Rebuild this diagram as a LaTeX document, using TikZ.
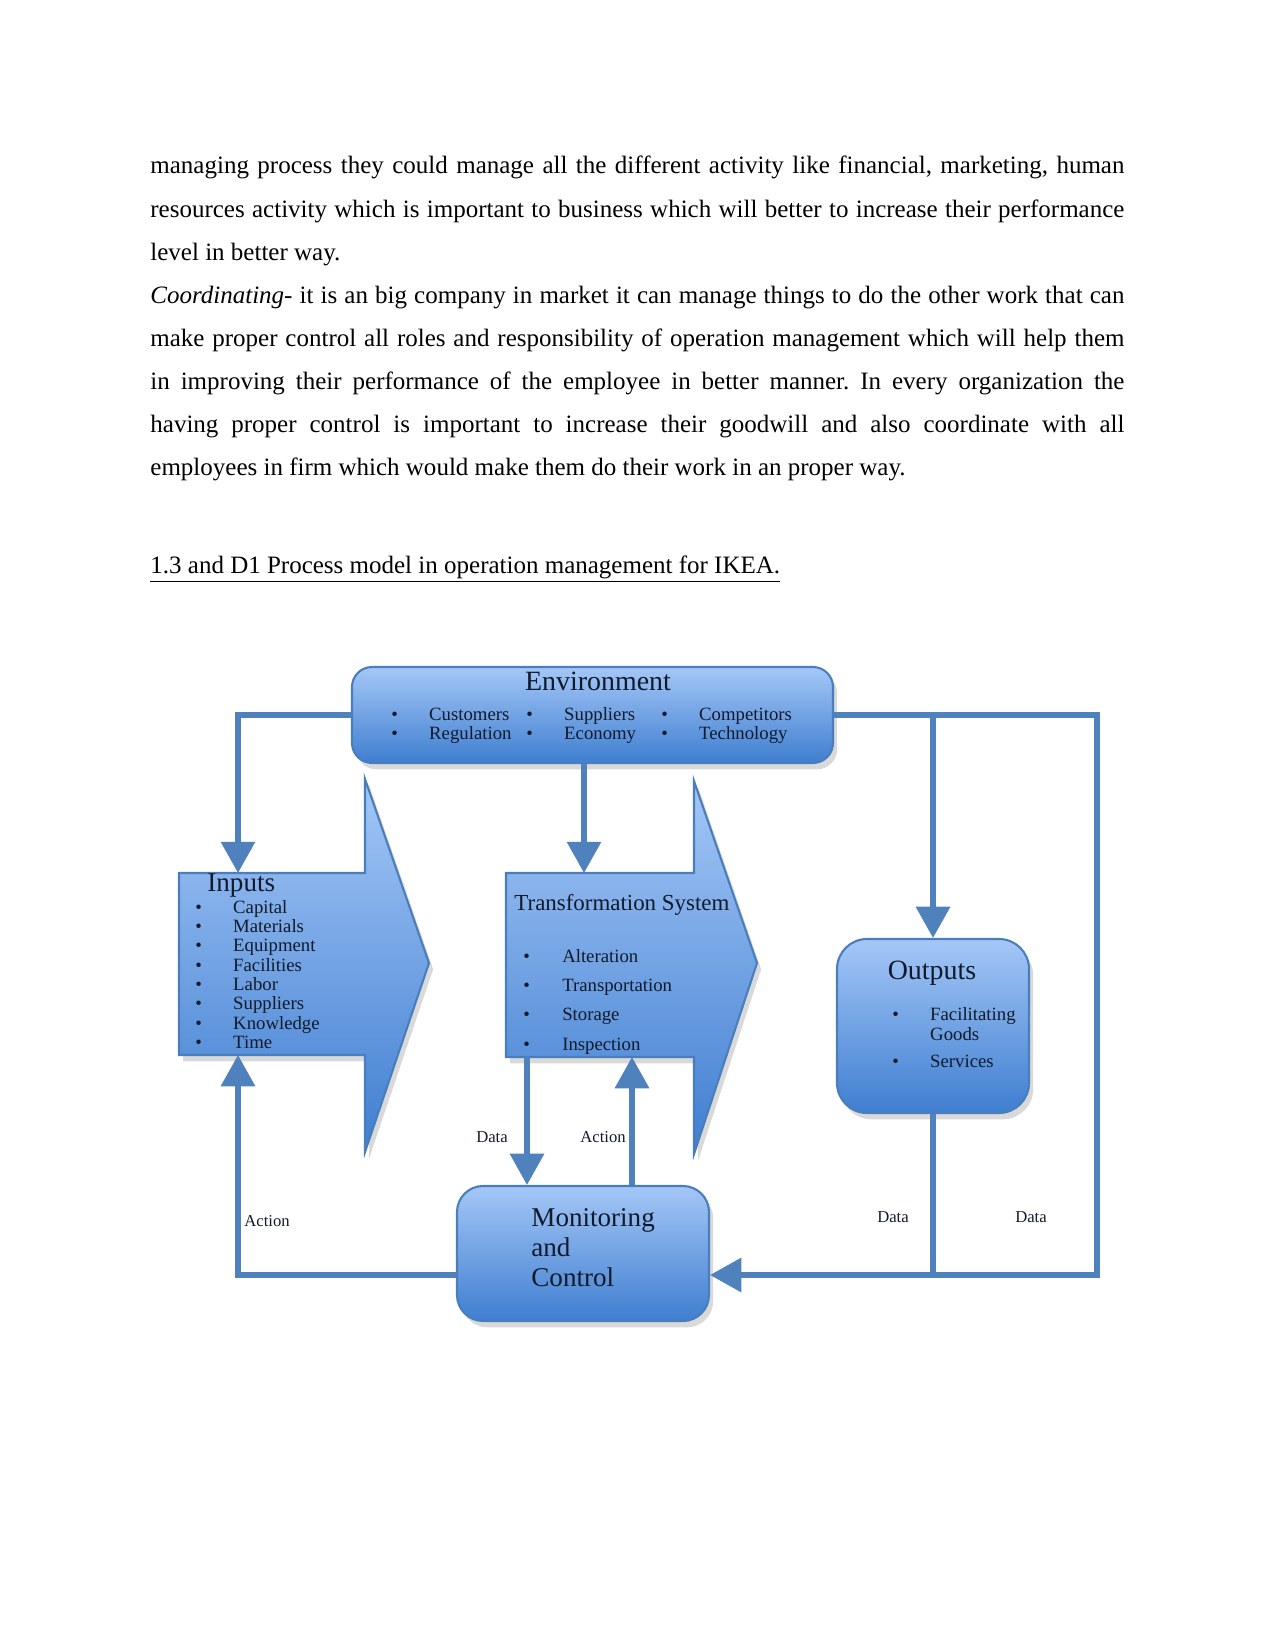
\documentclass[tikz,border=0pt]{standalone}
\usepackage{fontspec}
\setmainfont{Liberation Serif}
\usetikzlibrary{
	arrows.meta,
	calc,
	shadows
}
\newdimen\pxu \pxu=0.48pt
\definecolor{boxtop}{HTML}{A4C7F7}
\definecolor{boxbot}{HTML}{3F7ED0}
\definecolor{boxedge}{HTML}{4A7EBB}
\definecolor{flowcol}{HTML}{4F81BD}
\definecolor{inktext}{HTML}{111A2A}
\tikzset{
	bluebox/.style={draw=boxedge, line width=1pt, top color=boxtop, bottom color=boxbot,
		drop shadow={opacity=0.3, shadow xshift=2pt, shadow yshift=-3pt}},
	hold/.style={inner sep=0, outer sep=0},
	flow/.style={draw=flowcol, line width=2.6pt},
	tip/.style={-{Triangle[width=16pt,length=15pt]}},
	bigtitle/.style={inner sep=0, text=inktext, font=\fontsize{13.4}{15}\selectfont},
	itemlist/.style={inner sep=0, text=inktext, font=\fontsize{9}{9.3}\selectfont},
	lbl/.style={inner sep=0, text=inktext, font=\fontsize{8}{9}\selectfont}
}
\begin{document}
\begin{tikzpicture}[x=1\pxu, y=-1\pxu]
	\useasboundingbox (0,0) rectangle (1275,1650);
	% page text
	\node[inner sep=0, anchor=base west] (para) at (150,174) {\parbox[t]{974\pxu}{%
		\fontsize{12}{20.7}\selectfont\frenchspacing\tolerance=10000\parindent=0pt
		managing process they could manage all the different activity like financial, marketing, human\linebreak
		resources activity which is important to business which will better to increase their performance\linebreak
		level in better way.\par
		\textit{Coordinating}- it is an big company in market it can manage things to do the other work that can\linebreak
		make proper control all roles and responsibility of operation management which will help them\linebreak
		in improving their performance of the employee in better manner. In every organization the\linebreak
		having proper control is important to increase their goodwill and also coordinate with all\linebreak
		employees in firm which would make them do their work in an proper way.}};
	\node[inner sep=0, anchor=base west, font=\fontsize{12}{14}\selectfont] (head) at (150,573)
		{\underline{1.3 and D1 Process model in operation management for IKEA.}};

	% boxes and block arrows
	\node[bluebox, rounded corners=20\pxu, minimum width=481\pxu, minimum height=96\pxu, inner sep=0] (env) at (592.5,715) {};
	\path[bluebox] (179,873) -- (365,873) -- (365,779) -- (429,963) -- (365,1152) -- (365,1055) -- (179,1055) -- cycle;
	\node[hold, minimum width=186\pxu, minimum height=182\pxu] (inp) at (272,964) {};
	\path[bluebox] (506,873) -- (694,873) -- (694,781) -- (757,963) -- (694,1154) -- (694,1057) -- (506,1057) -- cycle;
	\node[hold, minimum width=188\pxu, minimum height=184\pxu] (trf) at (600,965) {};
	\node[bluebox, rounded corners=30\pxu, minimum width=192\pxu, minimum height=174\pxu, inner sep=0] (out) at (933,1026) {};
	\node[bluebox, rounded corners=26\pxu, minimum width=252\pxu, minimum height=135\pxu, inner sep=0] (mon) at (583,1253.5) {};

	% texts
	\node[bigtitle, anchor=base] (envtitle) at (598,690) {Environment};
	\node[itemlist, anchor=base west] (enva) at (391,720)
		{\begin{tabular}[t]{@{}l@{\hspace{15pt}}l@{}}\textbullet & Customers\\ \textbullet & Regulation\end{tabular}};
	\node[itemlist, anchor=base west] (envb) at (526,720)
		{\begin{tabular}[t]{@{}l@{\hspace{15pt}}l@{}}\textbullet & Suppliers\\ \textbullet & Economy\end{tabular}};
	\node[itemlist, anchor=base west] (envc) at (661,720)
		{\begin{tabular}[t]{@{}l@{\hspace{15pt}}l@{}}\textbullet & Competitors\\ \textbullet & Technology\end{tabular}};
	\node[bigtitle, anchor=base west, font=\fontsize{13}{15}\selectfont] (inptitle) at (207,891) {Inputs};
	\node[itemlist, anchor=base west] (inplist) at (195,913)
		{\begin{tabular}[t]{@{}l@{\hspace{15pt}}l@{}}\textbullet & Capital\\ \textbullet & Materials\\ \textbullet & Equipment\\
		\textbullet & Facilities\\ \textbullet & Labor\\ \textbullet & Suppliers\\ \textbullet & Knowledge\\ \textbullet & Time\end{tabular}};
	\node[bigtitle, anchor=base west, font=\fontsize{11}{13}\selectfont] (trftitle) at (514,910) {Transformation System};
	\node[itemlist, anchor=base west, font=\fontsize{9}{14.1}\selectfont] (trflist) at (523,962)
		{\begin{tabular}[t]{@{}l@{\hspace{15.5pt}}l@{}}\textbullet & Alteration\\ \textbullet & Transportation\\
		\textbullet & Storage\\ \textbullet & Inspection\end{tabular}};
	\node[bigtitle, anchor=base] (outtitle) at (932,979) {Outputs};
	\node[itemlist, anchor=base west, font=\fontsize{9}{9.6}\selectfont] (outlist) at (892,1020)
		{\begin{tabular}[t]{@{}l@{\hspace{15pt}}l@{}}\textbullet & Facilitating\\ & Goods\\[3.4pt] \textbullet & Services\end{tabular}};
	\node[bigtitle, anchor=base west, font=\fontsize{13}{14.6}\selectfont] (montext) at (531,1226)
		{\begin{tabular}[t]{@{}l@{}}Monitoring\\ and\\ Control\end{tabular}};

	% connectors
	\coordinate (rbot) at (1097,1275);
	\draw[flow, tip] (env.west) -| ([xshift=59\pxu]inp.north west);
	\draw[flow, tip] ([xshift=-8.5\pxu]env.south) -- ([xshift=-8.5\pxu]env.south |- trf.north);
	\draw[flow, tip] (env.east) -| (rbot) -- (rbot -| mon.east);
	\draw[flow, tip] (out.north |- env.east) -- (out.north);
	\draw[flow] (out.south) -- (out.south |- rbot);
	\draw[flow, tip] (mon.west |- rbot) -| ([xshift=59\pxu]inp.south west);
	\draw[flow, tip] ([xshift=21\pxu]trf.south west) -- ([xshift=21\pxu]trf.south west |- mon.north);
	\draw[flow, tip] ([xshift=126\pxu]trf.south west |- mon.north) -- ([xshift=126\pxu]trf.south west);

	% labels
	\node[lbl] (ldata) at (492,1137) {Data};
	\node[lbl] (lact) at (603,1137) {Action};
	\node[lbl] (lactl) at (267,1221) {Action};
	\node[lbl] (ldatam) at (893,1217) {Data};
	\node[lbl] (ldatar) at (1031,1217) {Data};
\end{tikzpicture}
\end{document}
